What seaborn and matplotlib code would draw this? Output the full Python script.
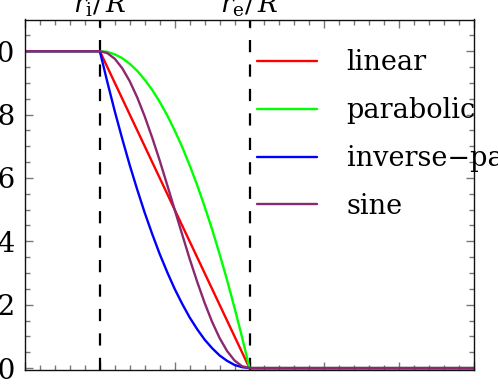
import numpy as np
import pandas as pd
import seaborn as sns
import matplotlib.pyplot as plt

# radius grid (r/R): flat part, transition between r_i and r_e, flat part
r_vals = [0.0, 0.20, 0.22, 0.24, 0.26, 0.28, 0.30, 0.32, 0.34, 0.36, 0.38, 0.40,
          0.42, 0.44, 0.46, 0.48, 0.50, 0.52, 0.54, 0.56, 0.58, 0.60, 1.2]

linear = [1.0, 1.0, 0.95, 0.90, 0.85, 0.80, 0.75, 0.70, 0.65, 0.60, 0.55, 0.50,
          0.45, 0.40, 0.35, 0.30, 0.25, 0.20, 0.15, 0.10, 0.05, 0.0, 0.0]
parabolic = [1.0, 1.0, 0.998, 0.99, 0.978, 0.96, 0.938, 0.91, 0.878, 0.84, 0.798, 0.75,
             0.698, 0.64, 0.578, 0.51, 0.438, 0.36, 0.278, 0.19, 0.098, 0.0, 0.0]
inverse_parabolic = [1.0, 1.0, 0.903, 0.81, 0.723, 0.64, 0.563, 0.49, 0.423, 0.36, 0.303, 0.25,
                     0.203, 0.16, 0.123, 0.09, 0.063, 0.04, 0.023, 0.01, 0.003, 0.0, 0.0]
sine = [1.0, 1.0, 0.994, 0.976, 0.946, 0.905, 0.854, 0.794, 0.727, 0.655, 0.578, 0.5,
        0.422, 0.345, 0.273, 0.206, 0.146, 0.095, 0.054, 0.024, 0.006, 0.0, 0.0]

labels = ["linear", "parabolic", "inverse\u2212parabolic", "sine"]
colors = ["#ff0000", "#00ff00", "#0000ff", "#8b2870"]
r_inner, r_outer = 0.2, 0.6

# long table for seaborn
frames = []
for name, vals in zip(labels, [linear, parabolic, inverse_parabolic, sine]):
    frames.append(pd.DataFrame({"r": r_vals, "f": vals, "profile": name}))
df = pd.concat(frames, ignore_index=True)

sns.set_style("ticks")
plt.rcParams["font.family"] = ["DejaVu Serif"]
plt.rcParams["mathtext.fontset"] = "dejavuserif"
plt.rcParams["text.color"] = "black"
plt.rcParams["ytick.labelcolor"] = "black"

fig = plt.figure(figsize=(4.98, 3.90), dpi=100)
ax = fig.add_axes([25 / 498, 20 / 390, 449 / 498, 350.5 / 390])

sns.lineplot(data=df, x="r", y="f", hue="profile", hue_order=labels,
             palette=dict(zip(labels, colors)), sort=False, estimator=None,
             linewidth=1.7, legend=False, ax=ax)

# dashed markers for the inner and outer radius
for xv in (r_inner, r_outer):
    ax.axvline(xv, color="black", linewidth=1.6, linestyle=(0, (5.5, 5.5)), zorder=1)
ax.text(r_inner, 1.019, r"$r_{\rm i}/\,R$", transform=ax.get_xaxis_transform(),
        ha="center", va="baseline", fontsize=19, color="black")
ax.text(r_outer, 1.019, r"$r_{\rm e}/\,R$", transform=ax.get_xaxis_transform(),
        ha="center", va="baseline", fontsize=19, color="black")

ax.set_xlim(0, 1.2)
ax.set_ylim(-0.006, 1.1)
ax.set_xticks(np.arange(0, 1.21, 0.2))
ax.set_xticks(np.arange(0, 1.21, 0.04), minor=True)
ax.set_yticks(np.arange(0, 1.01, 0.2))
ax.set_yticks(np.arange(0, 1.1, 0.05), minor=True)
ax.yaxis.set_major_formatter(plt.FormatStrFormatter("%.1f"))
ax.tick_params(which="both", direction="in", top=True, right=True,
               color="#777777", width=1, labelsize=20, pad=7, labelcolor="black")
ax.tick_params(axis="x", labelbottom=False)
ax.tick_params(which="major", length=6)
ax.tick_params(which="minor", length=3.5)
ax.set_xlabel("")
ax.set_ylabel("")
for sp in ax.spines.values():
    sp.set_linewidth(1)
    sp.set_color("#111111")

leg = ax.legend(ax.lines[:4], labels, loc="upper left", bbox_to_anchor=(0.517, 0.915),
                frameon=False, prop={"size": 19.5}, handlelength=2.2, handletextpad=1.1,
                labelspacing=0.77, borderpad=0, borderaxespad=0)
for t in leg.get_texts():
    t.set_color("black")

fig.savefig("out.png", dpi=100)
